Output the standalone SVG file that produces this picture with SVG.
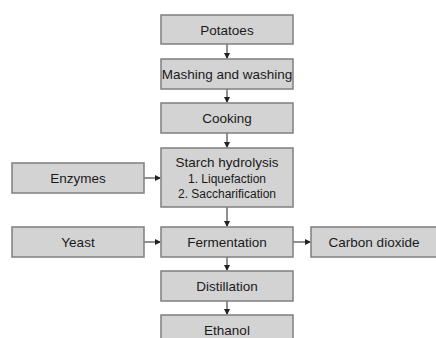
<svg xmlns="http://www.w3.org/2000/svg" width="436" height="338" viewBox="0 0 436 338">
<style>
.box{fill:#d3d3d3;stroke:#7f7f7f;stroke-width:1.5}
.t{font-family:"Liberation Sans",Arial,sans-serif;font-size:13.5px;fill:#1a1a1a;text-anchor:middle}
.s{font-size:12px}
.c{stroke:#222;stroke-width:1;fill:none;marker-end:url(#ah)}
</style>
<defs>
<marker id="ah" markerWidth="6" markerHeight="6" refX="5" refY="3" orient="auto" markerUnits="userSpaceOnUse">
<path d="M0,0 L6,3 L0,6 Z" fill="#222"/>
</marker>
</defs>
<rect width="436" height="338" fill="#fff"/>
<g id="connectors">
<line class="c" x1="227" y1="44" x2="227" y2="58"/>
<line class="c" x1="227" y1="89" x2="227" y2="102"/>
<line class="c" x1="227" y1="133" x2="227" y2="147"/>
<line class="c" x1="144" y1="178" x2="160" y2="178"/>
<line class="c" x1="227" y1="207" x2="227" y2="226"/>
<line class="c" x1="144" y1="242" x2="160" y2="242"/>
<line class="c" x1="293" y1="242" x2="310" y2="242"/>
<line class="c" x1="227" y1="257" x2="227" y2="270"/>
<line class="c" x1="227" y1="301" x2="227" y2="314"/>
</g>
<g id="potatoes"><rect class="box" x="161" y="15" width="132" height="29"/><text class="t" x="227" y="34.5">Potatoes</text></g>
<g id="mashing"><rect class="box" x="161" y="59" width="132" height="30"/><text class="t" x="227" y="79">Mashing and washing</text></g>
<g id="cooking"><rect class="box" x="161" y="103" width="132" height="30"/><text class="t" x="227" y="123">Cooking</text></g>
<g id="starch"><rect class="box" x="161" y="148" width="132" height="59"/><text class="t" x="227" y="166.5">Starch hydrolysis</text><text class="t s" x="227" y="183">1. Liquefaction</text><text class="t s" x="227" y="198">2. Saccharification</text></g>
<g id="enzymes"><rect class="box" x="12" y="163" width="132" height="30"/><text class="t" x="78" y="183">Enzymes</text></g>
<g id="yeast"><rect class="box" x="12" y="227" width="132" height="30"/><text class="t" x="78" y="247">Yeast</text></g>
<g id="fermentation"><rect class="box" x="161" y="227" width="132" height="30"/><text class="t" x="227" y="247">Fermentation</text></g>
<g id="co2"><rect class="box" x="311" y="227" width="132" height="30"/><text class="t" x="374" y="247">Carbon dioxide</text></g>
<g id="distillation"><rect class="box" x="161" y="271" width="132" height="30"/><text class="t" x="227" y="291">Distillation</text></g>
<g id="ethanol"><rect class="box" x="161" y="315" width="132" height="30"/><text class="t" x="227" y="335">Ethanol</text></g>
</svg>
